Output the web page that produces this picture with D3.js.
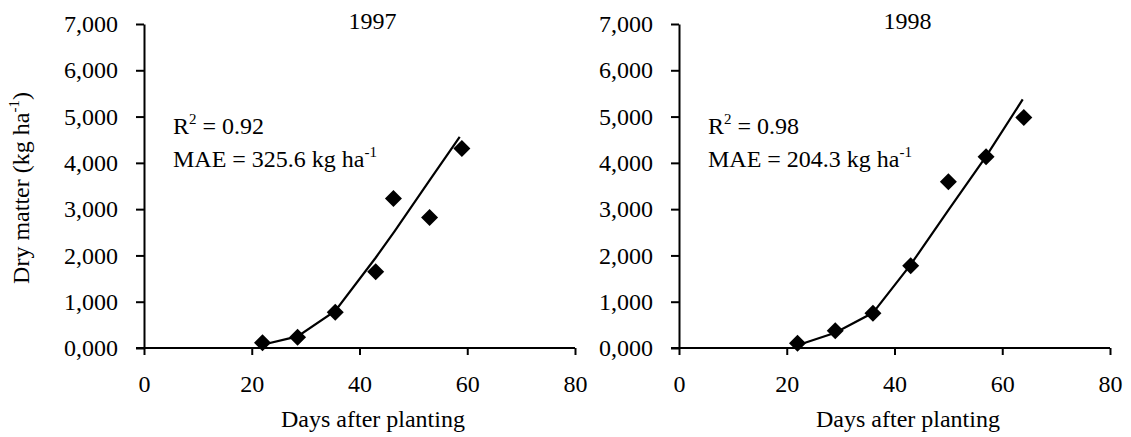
<!DOCTYPE html>
<html>
<head>
<meta charset="utf-8">
<script src="https://cdn.jsdelivr.net/npm/d3@7"></script>
</head>
<body style="margin:0;background:#fff">
<svg id="chart" width="1131" height="437"></svg>
<script>
(function () {
    'use strict'

    // observed values (diamonds)
    var obsDays97 = [22, 28.5, 35.5, 43, 46.3, 53, 59]
    var obsDM97 = [115, 230, 775, 1650, 3230, 2820, 4310]
    var obsDays98 = [22, 29, 36, 43, 50, 57, 64]
    var obsDM98 = [100, 374, 750, 1777, 3590, 4130, 4980]

    // simulated values (line)
    var simDays97 = [22, 28.5, 35.5, 43, 46.5, 53, 58.6]
    var simDM97 = [70, 250, 800, 1950, 2520, 3620, 4560]
    var simDays98 = [22, 29, 36, 43, 50, 57, 63.8]
    var simDM98 = [60, 330, 760, 1800, 2980, 4140, 5370]

    var xTicks = [0, 20, 40, 60, 80]
    var yTicks = [0, 1000, 2000, 3000, 4000, 5000, 6000, 7000]

    var panels = [
        { title: '1997', r2: '0.92', mae: '325.6', left: 144, obsX: obsDays97, obsY: obsDM97, simX: simDays97, simY: simDM97 },
        { title: '1998', r2: '0.98', mae: '204.3', left: 679, obsX: obsDays98, obsY: obsDM98, simX: simDays98, simY: simDM98 }
    ]

    var FONT = '"Liberation Serif"'
    var FS = '24px', SUP = '15px'
    var top = 24, bottom = 348, plotW = 431
    var svg = d3.select('#chart')

    var y = d3.scaleLinear().domain([0, 7000]).range([bottom, top])

    function txt(sel) {
        return sel.style('font-family', FONT).style('font-size', FS).attr('fill', '#000')
    }

    panels.forEach(function (p) {
        var x = d3.scaleLinear().domain([0, 80]).range([p.left, p.left + plotW])

        // x axis
        var gx = svg.append('g')
            .attr('transform', 'translate(0,' + bottom + ')')
            .call(d3.axisBottom(x).tickValues(xTicks).tickSizeOuter(0).tickSizeInner(7).tickPadding(20))
            .attr('font-family', null)
        gx.select('.domain').attr('stroke', '#000').attr('stroke-width', 2)
            .attr('d', 'M' + (p.left - 8) + ',0H' + (p.left + plotW))
        gx.selectAll('.tick line').attr('stroke', '#000').attr('stroke-width', 2)
        txt(gx.selectAll('.tick text')).attr('dy', '0.71em')

        // y axis
        var gy = svg.append('g')
            .attr('transform', 'translate(' + p.left + ',0)')
            .call(d3.axisLeft(y).tickValues(yTicks).tickSizeOuter(0).tickSizeInner(8)
                .tickPadding(18)
                .tickFormat(function (d) { return Math.floor(d / 1000) + ',000' }))
            .attr('font-family', null)
        gy.select('.domain').attr('stroke', '#000').attr('stroke-width', 2)
        gy.selectAll('.tick line').attr('stroke', '#000').attr('stroke-width', 2)
        txt(gy.selectAll('.tick text'))

        // simulated line
        var sim = p.simX.map(function (d, i) { return [d, p.simY[i]] })
        svg.append('path')
            .datum(sim)
            .attr('fill', 'none')
            .attr('stroke', '#000')
            .attr('stroke-width', 2.2)
            .attr('d', d3.line().x(function (d) { return x(d[0]) }).y(function (d) { return y(d[1]) }))

        // observed diamonds
        var obs = p.obsX.map(function (d, i) { return [d, p.obsY[i]] })
        svg.append('g').selectAll('path')
            .data(obs).enter()
            .append('path')
            .attr('d', 'M0,-8.5L8.5,0L0,8.5L-8.5,0Z')
            .attr('fill', '#000')
            .attr('transform', function (d) { return 'translate(' + x(d[0]) + ',' + y(d[1]) + ')' })

        // year title
        txt(svg.append('text'))
            .attr('x', x(42.4)).attr('y', 29)
            .attr('text-anchor', 'middle')
            .text(p.title)

        // stats
        var t1 = txt(svg.append('text'))
            .attr('x', p.left + 29).attr('y', 134)
        t1.append('tspan').text('R')
        t1.append('tspan').attr('dy', -10).style('font-size', SUP).text('2')
        t1.append('tspan').attr('dy', 10).text(' = ' + p.r2)

        var t2 = txt(svg.append('text'))
            .attr('x', p.left + 29).attr('y', 167)
        t2.append('tspan').text('MAE = ' + p.mae + ' kg ha')
        t2.append('tspan').attr('dy', -10).style('font-size', SUP).text('-1')

        // x title
        txt(svg.append('text'))
            .attr('x', x(42.5)).attr('y', 427)
            .attr('text-anchor', 'middle')
            .text('Days after planting')
    })

    // y title
    var yt = txt(svg.append('text'))
        .attr('transform', 'translate(29,188) rotate(-90)')
        .attr('text-anchor', 'middle')
    yt.append('tspan').text('Dry matter (kg ha')
    yt.append('tspan').attr('dy', -10).style('font-size', SUP).text('-1')
    yt.append('tspan').attr('dy', 10).text(')')
})()
</script>
</body>
</html>
